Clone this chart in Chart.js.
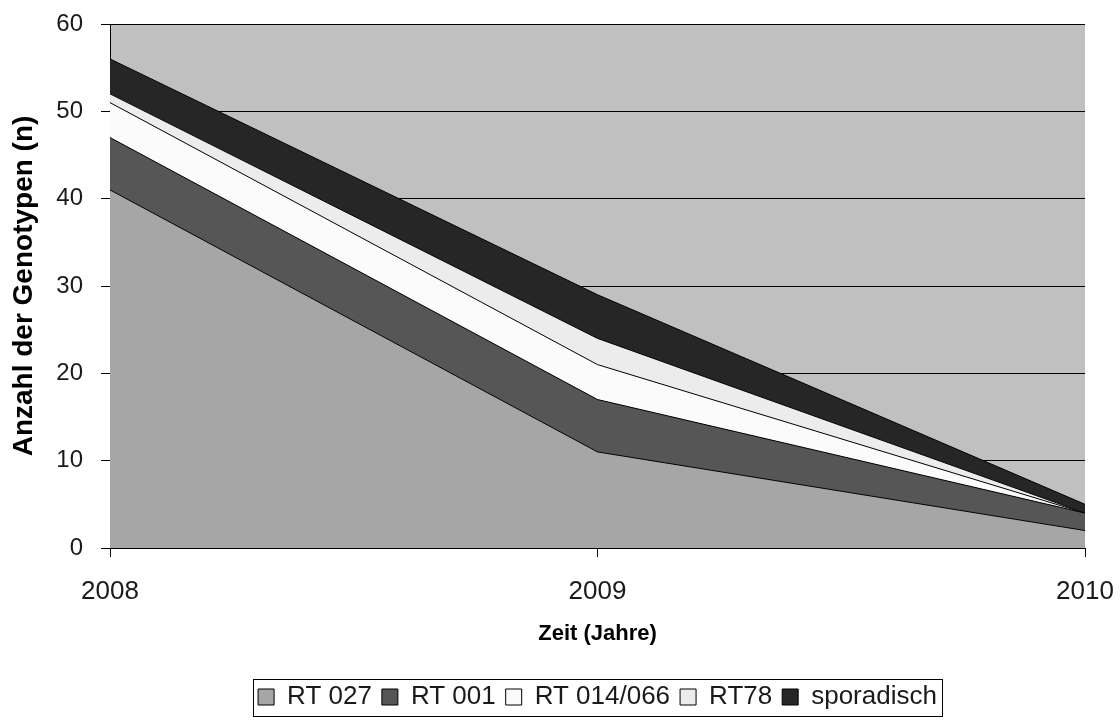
<!DOCTYPE html>
<html>
<head>
<meta charset="utf-8">
<script src="https://cdn.jsdelivr.net/npm/chart.js@4/dist/chart.umd.min.js"></script>
<style>
  html, body { margin: 0; padding: 0; background: #fff; }
  #wrap { width: 1120px; height: 722px; }
</style>
</head>
<body>
<div id="wrap"><canvas id="chart" width="1120" height="722"></canvas></div>
<script>
const jahre = ["2008", "2009", "2010"];
const rt027 = [41, 11, 2];
const rt001 = [6, 6, 2];
const rt014066 = [4, 4, 0];
const rt78 = [1, 3, 0];
const sporadisch = [4, 5, 1];
const yTicks = [0, 10, 20, 30, 40, 50, 60];

const serien = [
    { label: "RT 027", data: rt027, farbe: "#a6a6a6" },
    { label: "RT 001", data: rt001, farbe: "#565656" },
    { label: "RT 014/066", data: rt014066, farbe: "#fbfbfb" },
    { label: "RT78", data: rt78, farbe: "#ececec" },
    { label: "sporadisch", data: sporadisch, farbe: "#262626" }
];

// grauer Hintergrund der Zeichenfläche
const hintergrund = {
    id: "hintergrund",
    beforeDraw(chart) {
        const a = chart.chartArea;
        const ctx = chart.ctx;
        ctx.save();
        ctx.fillStyle = "#c0c0c0";
        ctx.fillRect(a.left, a.top, a.right - a.left, a.bottom - a.top);
        ctx.restore();
    }
};

// Legende unter der Zeichenfläche zentrieren
const legendeVerschieben = {
    id: "legendeVerschieben",
    afterLayout(chart) {
        const lg = chart.legend;
        const a = chart.chartArea;
        const dx = (a.left + a.right) / 2 - (lg.left + lg.right) / 2;
        lg.left += dx;
        lg.right += dx;
        lg.legendHitBoxes.forEach(b => { b.left += dx; });
    }
};

// Rahmen um die Legende
const legendenRahmen = {
    id: "legendenRahmen",
    afterDraw(chart) {
        const boxen = chart.legend.legendHitBoxes;
        if (!boxen || !boxen.length) return;
        const l = Math.min(...boxen.map(b => b.left));
        const r = Math.max(...boxen.map(b => b.left + b.width));
        const t = Math.min(...boxen.map(b => b.top));
        const u = Math.max(...boxen.map(b => b.top + b.height));
        const ctx = chart.ctx;
        ctx.save();
        ctx.strokeStyle = "#000";
        ctx.lineWidth = 1;
        ctx.strokeRect(Math.round(l - 5) + 0.5, Math.round(t - 5) + 0.5, Math.round(r - l + 10), Math.round(u - t + 11));
        ctx.restore();
    }
};

const datasets = serien.map((s, i) => ({
    label: s.label,
    data: s.data,
    backgroundColor: s.farbe,
    borderColor: "#000",
    borderWidth: 1,
    fill: i === 0 ? "origin" : "-1",
    tension: 0,
    pointRadius: 0
}));

const ctx = document.getElementById("chart").getContext("2d");

new Chart(ctx, {
    type: "line",
    data: {
        labels: jahre,
        datasets
    },
    options: {
        responsive: false,
        animation: false,
        layout: { padding: { top: 24, right: 35, bottom: 2, left: 0 } },
        scales: {
            x: {
                offset: false,
                afterFit(scale) {
                    scale.height = 126;
                    scale.paddingLeft = 0;
                    scale.paddingRight = 0;
                },
                grid: {
                    drawOnChartArea: false,
                    drawTicks: true,
                    tickLength: 9,
                    color: "#000"
                },
                border: { display: true, color: "#000" },
                ticks: {
                    color: "#1a1a1a",
                    font: { family: "Liberation Sans, Arial", size: 26 },
                    padding: 19,
                    maxRotation: 0,
                    autoSkip: false
                },
                title: {
                    display: true,
                    text: "Zeit (Jahre)",
                    color: "#000",
                    font: { family: "Liberation Sans, Arial", size: 22, weight: "bold" },
                    padding: { top: 0, bottom: 27 }
                }
            },
            y: {
                stacked: true,
                min: 0,
                max: 60,
                afterFit(scale) {
                    scale.width = 110;
                    scale.paddingTop = 0;
                    scale.paddingBottom = 0;
                },
                afterBuildTicks(scale) { scale.ticks = yTicks.map(v => ({ value: v })); },
                grid: {
                    color: "#000",
                    lineWidth: 1,
                    drawTicks: true,
                    tickLength: 9
                },
                border: { display: true, color: "#000" },
                ticks: {
                    color: "#1a1a1a",
                    font: { family: "Liberation Sans, Arial", size: 24 },
                    padding: 18
                },
                title: {
                    display: true,
                    text: "Anzahl der Genotypen (n)",
                    color: "#000",
                    font: { family: "Liberation Sans, Arial", size: 28, weight: "bold" },
                    padding: { top: 7, bottom: 0 }
                }
            }
        },
        plugins: {
            legend: {
                position: "bottom",
                labels: {
                    color: "#1a1a1a",
                    font: { family: "Liberation Sans, Arial", size: 26 },
                    boxWidth: 16,
                    boxHeight: 16,
                    padding: 10,
                    generateLabels(chart) {
                        return chart.data.datasets.map((d, i) => ({
                            text: d.label,
                            fillStyle: d.backgroundColor,
                            strokeStyle: "#000",
                            lineWidth: 1,
                            hidden: false,
                            datasetIndex: i,
                            fontColor: "#1a1a1a"
                        }));
                    }
                }
            },
            tooltip: { enabled: false }
        }
    },
    plugins: [hintergrund, legendeVerschieben, legendenRahmen]
});
</script>
</body>
</html>
